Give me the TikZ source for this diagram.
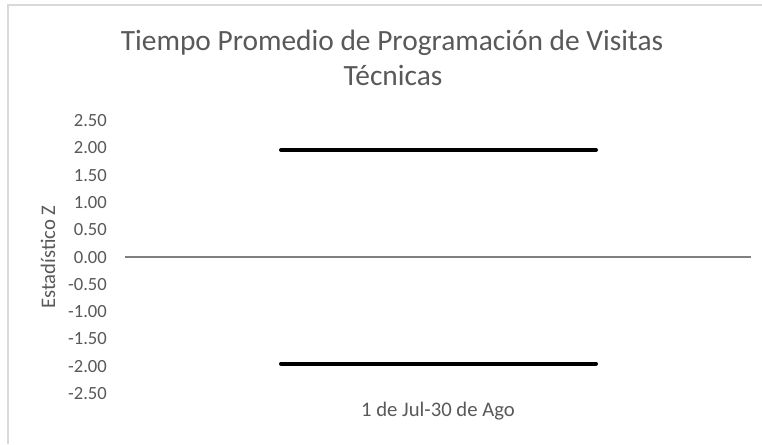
\documentclass[tikz,border=0pt]{standalone}
\usepackage{fontspec}
\setmainfont{Carlito}
\definecolor{txtgray}{HTML}{595959}
\definecolor{axgray}{HTML}{7F7F7F}
\definecolor{bordergray}{HTML}{D9D9D9}
\tikzset{
  ticklbl/.style={anchor=east, text=txtgray, font=\fontsize{18.6}{22}\selectfont, inner sep=0pt},
  titlelbl/.style={anchor=base, text=txtgray, font=\fontsize{29.4}{35}\selectfont, inner sep=0pt},
  axtitle/.style={text=txtgray, font=\fontsize{20.7}{24}\selectfont, inner sep=0pt},
  limitline/.style={line width=4pt, black, line cap=round},
  axisline/.style={line width=2pt, axgray},
}
\begin{document}
\begin{tikzpicture}[x={(1pt,0)}, y={(0,-1pt)}]
\useasboundingbox (0,0) rectangle (762,444);
\fill[white] (0,0) rectangle (762,444);
% chart border (left and top)
\coordinate (bl) at (8,444);
\coordinate (tl) at (8,5);
\coordinate (tr) at (762,5);
\draw[bordergray, line width=1.5pt] (bl) -- (tl) -- (tr);
% title
\node[titlelbl] (title1) at (392,50.5) {Tiempo Promedio de Programación de Visitas};
\node[titlelbl] (title2) at (393,85.5) {Técnicas};
% tick labels
\foreach \v [count=\i from 0] in {2.50,2.00,1.50,1.00,0.50,0.00,-0.50,-1.00,-1.50,-2.00,-2.50} {
  \node[ticklbl] (t\i) at (107,{120.7+27.27*\i}) {\v};
}
% axis titles
\node[axtitle, rotate=90] (ytitle) at (48,257) {Estadístico Z};
\node[axtitle] (xlbl) at (438,411) {1 de Jul-30 de Ago};
% zero axis
\coordinate (a0) at (125,256.7);
\coordinate (a1) at (751,256.7);
\draw[axisline] (a0) -- (a1);
% limit lines
\coordinate (u0) at (281,150);
\coordinate (u1) at (596,150);
\coordinate (l0) at (281,363.5);
\coordinate (l1) at (596,363.5);
\draw[limitline] (u0) -- (u1);
\draw[limitline] (l0) -- (l1);
\end{tikzpicture}
\end{document}
